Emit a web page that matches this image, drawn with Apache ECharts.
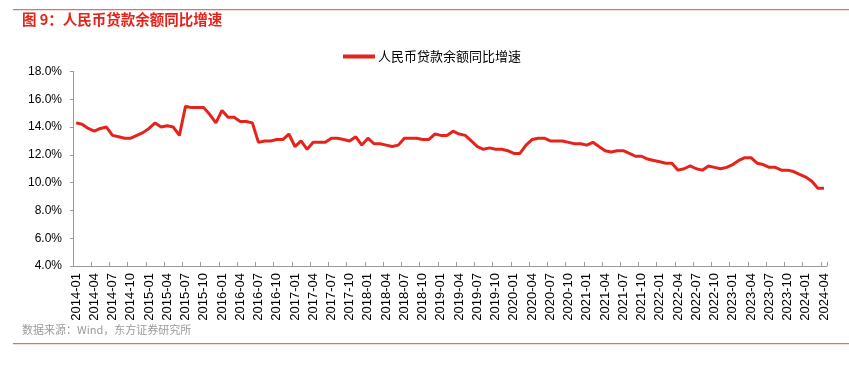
<!DOCTYPE html>
<html><head><meta charset="utf-8">
<script src="https://cdn.jsdelivr.net/npm/echarts@6/dist/echarts.min.js"></script>
<style>html,body{margin:0;padding:0;background:#fff}#c{width:849px;height:366px}</style>
</head><body><div id="c"></div>
<script>
const years = [2014,2015,2016,2017,2018,2019,2020,2021,2022,2023,2024];
const categories = [];
for (const y of years) { for (let m = 1; m <= 12; m++) { if (y === 2024 && m > 4) break; categories.push(y + '-' + String(m).padStart(2,'0')); } }
const seriesName = '人民币贷款余额同比增速';
const loanGrowth = [
 14.3,14.2,13.9,13.7,13.9,14.0,13.4,13.3,13.2,13.2,13.4,13.6,
 13.9,14.3,14.0,14.1,14.0,13.4,15.5,15.4,15.4,15.4,14.9,14.3,
 15.2,14.7,14.7,14.4,14.4,14.3,12.9,13.0,13.0,13.1,13.1,13.5,
 12.6,13.0,12.4,12.9,12.9,12.9,13.2,13.2,13.1,13.0,13.3,12.7,
 13.2,12.8,12.8,12.7,12.6,12.7,13.2,13.2,13.2,13.1,13.1,13.5,
 13.4,13.4,13.7,13.5,13.4,13.0,12.6,12.4,12.5,12.4,12.4,12.3,
 12.1,12.1,12.7,13.1,13.2,13.2,13.0,13.0,13.0,12.9,12.8,12.8,
 12.7,12.9,12.6,12.3,12.2,12.3,12.3,12.1,11.9,11.9,11.7,11.6,
 11.5,11.4,11.4,10.9,11.0,11.2,11.0,10.9,11.2,11.1,11.0,11.1,
 11.3,11.6,11.8,11.8,11.4,11.3,11.1,11.1,10.9,10.9,10.8,10.6,
 10.4,10.1,9.6,9.6
];
const yTicks = {min:4, max:18, interval:2};
const titleText = '图 9：人民币贷款余额同比增速';
const sourceText = '数据来源：Wind，东方证券研究所';

const chart = echarts.init(document.getElementById('c'), null, {renderer:'canvas'});
const red = '#E5231B';
const font = '"Liberation Sans", Arial, "Noto Sans CJK SC", sans-serif';
chart.setOption({
  animation:false,
  textStyle:{fontFamily:font},
  graphic:[
    {type:'rect', shape:{x:13,y:9,width:836,height:1.2}, style:{fill:'#EE6A64'}},
    {type:'text', left:22, top:12, style:{text:titleText, fill:red, font:'bold 14.5px "Noto Sans CJK SC", sans-serif'}},
    {type:'text', left:22, top:324, style:{text:sourceText, fill:'#9a9a9a', font:'11px "Noto Sans CJK SC", sans-serif'}},
    {type:'rect', shape:{x:13,y:343,width:836,height:1.2}, style:{fill:'#EE6A64'}}
  ],
  legend:{
    top:50, left:343, padding:0,
    itemWidth:32, itemHeight:4, itemGap:3,
    icon:'rect',
    textStyle:{fontSize:13, color:'#000', padding:[0,0,0,-2], fontFamily:'"Noto Sans CJK SC", sans-serif'},
    data:[seriesName]
  },
  grid:{left:73, right:22, top:71.5, bottom:100, containLabel:false},
  xAxis:{
    type:'category', data:categories, boundaryGap:true,
    axisLine:{lineStyle:{color:'#999', width:1}},
    axisTick:{show:true, inside:true, length:4, interval:2, lineStyle:{color:'#999'}},
    axisLabel:{interval:2, rotate:90, color:'#000', fontSize:13, margin:7, fontFamily:font}
  },
  yAxis:{
    type:'value', min:yTicks.min, max:yTicks.max, interval:yTicks.interval,
    axisLine:{show:true, lineStyle:{color:'#999'}},
    axisTick:{show:true, length:3, lineStyle:{color:'#999'}},
    splitLine:{show:false},
    axisLabel:{color:'#000', fontSize:12, margin:11, fontFamily:font, formatter:v=>v.toFixed(1)+'%'}
  },
  series:[{
    name:seriesName, type:'line', data:loanGrowth, symbol:'none',
    lineStyle:{color:red, width:3}, itemStyle:{color:red}
  }]
});
</script></body></html>
